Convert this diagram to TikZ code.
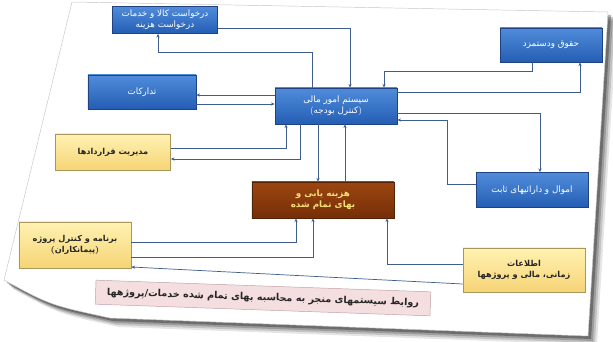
\documentclass[tikz,border=0pt]{standalone}
\usepackage{fontspec}
\newfontfamily\fa[Script=Arabic]{DejaVu Sans}
\TeXXeTstate=1
\usetikzlibrary{arrows.meta,calc,shadows}
\definecolor{bluetop}{RGB}{80,140,218}
\definecolor{bluebot}{RGB}{36,94,180}
\definecolor{blueedge}{RGB}{30,66,130}
\definecolor{yeltop}{RGB}{255,242,178}
\definecolor{yelbot}{RGB}{246,212,118}
\definecolor{yeledge}{RGB}{170,150,90}
\definecolor{browntop}{RGB}{156,70,16}
\definecolor{brownbot}{RGB}{118,46,8}
\definecolor{brownedge}{RGB}{80,34,6}
\definecolor{browntext}{RGB}{246,222,120}
\definecolor{linec}{RGB}{62,92,140}
\definecolor{capfill}{RGB}{244,222,224}
\definecolor{capedge}{RGB}{190,160,165}
\newcommand{\fatext}[1]{{\fa\beginR #1\endR}}
\begin{document}
\begin{tikzpicture}[x={(0.03cm,0)},y={(0,-0.03cm)},
  box/.style={inner sep=1pt,align=center,font=\fontsize{7.5}{9.5}\selectfont,
    drop shadow={opacity=0.25,shadow xshift=0.8pt,shadow yshift=-0.8pt}},
  bluebox/.style={box,top color=bluetop,bottom color=bluebot,draw=blueedge,line width=0.5pt,text=white},
  yelbox/.style={box,top color=yeltop,bottom color=yelbot,draw=yeledge,line width=0.5pt,text=black!85,font=\fontsize{7}{9}\selectfont\bfseries},
  brownbox/.style={box,top color=browntop,bottom color=brownbot,draw=brownedge,line width=0.5pt,text=browntext,font=\fontsize{7.5}{9.5}\selectfont\bfseries},
  capbox/.style={inner sep=1pt,fill=capfill,draw=capedge,line width=0.4pt,text=black!85,font=\fontsize{8.2}{10}\selectfont\bfseries},
  link/.style={draw=linec,line width=0.6pt,-{Stealth[length=3.2pt,width=2.6pt]}}]
\useasboundingbox (0,0) rectangle (613,342);
% page shadow and sheet
\foreach \d/\o in {9/0.10,7/0.15,5/0.2,3/0.3}{
  \fill[black,opacity=\o] ($(72,2)+(\d,\d)$) -- ($(608,12)+(\d,\d)$) -- ($(588,336)+(\d,\d)$) -- ($(110,318)+(\d,\d)$) .. controls ($(50,305)+(\d,\d)$) .. ($(4,280)+(\d,\d)$) -- cycle;
}
\fill[white,draw=gray!45,line width=0.4pt] (72,2) -- (608,12) -- (588,336) -- (110,318) .. controls (50,305) .. (4,280) -- cycle;
% nodes
\node[bluebox,minimum width=3.15cm,minimum height=0.81cm] (tlb) at (165,20) {\fatext{درخواست کالا و خدمات}\\\fatext{درخواست هزینه}};
\node[bluebox,minimum width=3.06cm,minimum height=1.02cm] (pay) at (551,45) {\fatext{حقوق ودستمزد}};
\node[bluebox,minimum width=3.24cm,minimum height=1.02cm] (asset) at (142,92) {\fatext{تدارکات}};
\node[bluebox,minimum width=3.66cm,minimum height=1.08cm] (fin) at (336,106) {\fatext{سیستم امور مالی}\\(\fatext{کنترل بودجه})};
\node[yelbox,minimum width=3.45cm,minimum height=1.08cm] (contract) at (113,152) {\fatext{مدیریت قراردادها}};
\node[brownbox,minimum width=4.26cm,minimum height=1.08cm] (cost) at (323,200) {\fatext{هزینه یابی و}\\\fatext{بهای تمام شده}};
\node[bluebox,minimum width=3.36cm,minimum height=1.05cm] (prop) at (532,190) {\fatext{اموال و دارائیهای ثابت}};
\node[yelbox,minimum width=3.36cm,minimum height=1.38cm] (proj) at (75,245) {\fatext{برنامه و کنترل پروژه}\\(\fatext{پیمانکاران})};
\node[yelbox,minimum width=3.66cm,minimum height=1.32cm] (info) at (524,270) {\fatext{اطلاعات}\\\fatext{زمانی، مالی و پروژهها}};
\node[capbox,minimum width=10.05cm,minimum height=0.72cm,rotate=-2] (cap) at (263,298) {\fatext{روابط سیستمهای منجر به محاسبه بهای تمام شده خدمات/پروژهها}};
% connectors
\draw[link] ($(tlb.east)+(0,8)$) -| ($(fin.north)+(14,0)$);
\draw[link] ($(fin.north)+(-24,0)$) |- ($(tlb.south)+(-7,19)$) -- ($(tlb.south)+(-7,0)$);
\draw[link] ($(fin.west)+(0,-11)$) -- ($(asset.east)+(0,3)$);
\draw[link] ($(asset.east)+(0,12)$) -- ($(fin.west)+(0,-2)$);
\draw[link] ($(pay.south)+(-19,0)$) |- ($(fin.north)+(48,-16)$) -- ($(fin.north)+(48,0)$);
\draw[link] ($(fin.east)+(0,-14)$) -| ($(pay.south)+(29,0)$);
\draw[link] ($(fin.east)+(0,7)$) -| ($(prop.north)+(8,0)$);
\draw[link] ($(prop.west)+(0,-6)$) -| ($(fin.east)+(50,14)$) -- ($(fin.east)+(0,14)$);
\draw[link] ($(contract.east)+(0,-4)$) -| ($(fin.south)+(-50,0)$);
\draw[link] ($(fin.south)+(-36,0)$) |- ($(contract.east)+(0,7)$);
\draw[link] ($(fin.south)+(-18,0)$) -- ($(cost.north)+(-5,0)$);
\draw[link] ($(cost.north)+(22,0)$) -- ($(fin.south)+(9,0)$);
\draw[link] ($(proj.east)+(0,-3)$) -| ($(cost.south)+(-27,0)$);
\draw[link] ($(proj.east)+(0,12)$) -| ($(cost.south)+(-10,0)$);
\draw[link] ($(info.west)+(0,-6)$) -| ($(cost.south)+(64,0)$);
\draw[link] ($(info.west)+(0,14)$) -- ($(proj.east)+(0,22)$);
\end{tikzpicture}
\end{document}
